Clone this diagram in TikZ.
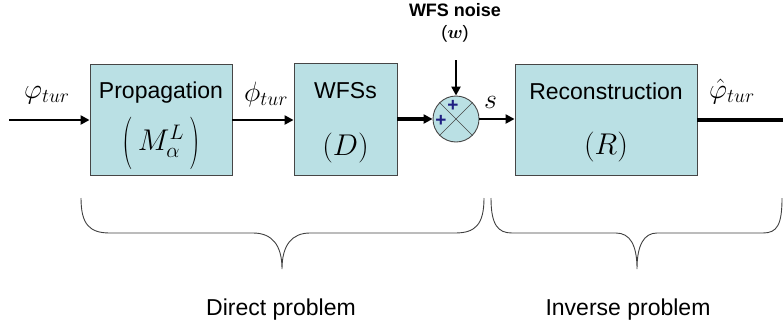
\RequirePackage{fix-cm}
\documentclass[tikz,border=0pt]{standalone}
\usepackage{fontspec}
\usepackage{bm}
\usepackage{graphicx}
\setmainfont{Liberation Sans}
\usetikzlibrary{arrows.meta}
\definecolor{boxfill}{RGB}{186,224,228}
\definecolor{boxline}{RGB}{70,70,70}
\definecolor{plusblue}{RGB}{30,30,130}
\newcommand{\tallparen}[1]{\vcenter{\hbox{\scalebox{1}[1.75]{$#1$}}}}
\tikzset{
  blockbox/.style={draw=boxline, line width=0.9pt, fill=boxfill, inner sep=0pt},
  boxtext/.style={inner sep=0pt, anchor=base, font=\fontsize{23}{26}\selectfont},
  mathlbl/.style={inner sep=0pt, font=\fontsize{28}{30}\selectfont},
  sig/.style={line width=2.6pt, -{Triangle[length=9pt,width=9pt]}},
  bracepath/.style={draw=black!75, line width=0.9pt},
  problbl/.style={inner sep=0pt, anchor=base, font=\fontsize{23}{26}\selectfont}
}
\begin{document}
\begin{tikzpicture}[x=1pt,y=-1pt]
\useasboundingbox (0,0) rectangle (783,327);
% blocks
\node[blockbox, minimum width=142pt, minimum height=111pt] (prop) at (161,119.5) {};
\node[blockbox, minimum width=103pt, minimum height=112pt] (wfs) at (345.5,119) {};
\node[blockbox, minimum width=182pt, minimum height=111pt] (rec) at (606,119.5) {};
\node[circle, draw=boxline, line width=0.9pt, fill=boxfill, minimum size=46pt, inner sep=0pt] (sum) at (456,119) {};
\draw[boxline, line width=0.6pt] (sum.north west) -- (sum.south east);
\draw[boxline, line width=0.6pt] (sum.north east) -- (sum.south west);
\node[text=plusblue, font=\fontsize{19}{19}\selectfont\bfseries, inner sep=0pt] (p1) at (453,106) {+};
\node[text=plusblue, font=\fontsize{19}{19}\selectfont\bfseries, inner sep=0pt] (p2) at (441,121) {+};
% block texts
\node[boxtext] (proptxt) at (161,98) {Propagation};
\node[mathlbl, font=\fontsize{30}{34}\selectfont] (propm) at (161,143) {$\tallparen{(}\,M_{\alpha}^{L}\,\tallparen{)}$};
\node[boxtext] (wfstxt) at (345.5,98) {WFSs};
\node[mathlbl, font=\fontsize{30}{34}\selectfont] (wfsm) at (345.5,148) {$(D)$};
\node[boxtext] (rectxt) at (606,99) {Reconstruction};
\node[mathlbl, font=\fontsize{30}{34}\selectfont] (recm) at (606,147) {$(R)$};
% noise
\node[inner sep=0pt, anchor=base, font=\fontsize{18}{20}\selectfont\bfseries] (noise) at (455,16) {WFS noise};
\node[inner sep=0pt, anchor=base, font=\fontsize{18}{20}\selectfont] (noisew) at (455,38) {($\bm{w}$)};
\coordinate (nstart) at (456,60);
% signal labels
\node[mathlbl, anchor=base west] (phiin) at (24,98) {$\varphi_{tur}$};
\node[mathlbl, anchor=base west] (phimid) at (244,101) {$\phi_{tur}$};
\node[mathlbl, anchor=base west] (slbl) at (484,108) {$s$};
\node[mathlbl, anchor=base west] (phiout) at (709,98) {$\hat{\varphi}_{tur}$};
% connectors
\coordinate (in) at (9,120);
\coordinate (out) at (793,120);
\draw[sig] (in) -- (prop.west |- in);
\draw[sig] (prop.east |- in) -- (wfs.west |- in);
\draw[sig, line width=3.4pt] (wfs.east |- sum.west) -- (sum.west);
\draw[sig] (nstart) -- (sum.north);
\draw[sig] (sum.east) -- (rec.west |- sum.east);
\draw[sig, line width=3.4pt] (rec.east |- out) -- (out);
% braces
\draw[bracepath] (81,198) .. controls (81,225) and (90,233) .. (110,233) -- (253,233)
  .. controls (272,233) and (282,245) .. (282,269)
  .. controls (282,245) and (292,233) .. (310,233) -- (455,233)
  .. controls (475,233) and (484,225) .. (484,198);
\draw[bracepath] (491,198) .. controls (491,225) and (498,233) .. (512,233) -- (616,233)
  .. controls (630,233) and (637,245) .. (637,269)
  .. controls (637,245) and (644,233) .. (657,233) -- (763,233)
  .. controls (777,233) and (782,225) .. (782,198);
\node[problbl] (direct) at (281,315) {Direct problem};
\node[problbl] (inverse) at (628,315) {Inverse problem};
\end{tikzpicture}
\end{document}
